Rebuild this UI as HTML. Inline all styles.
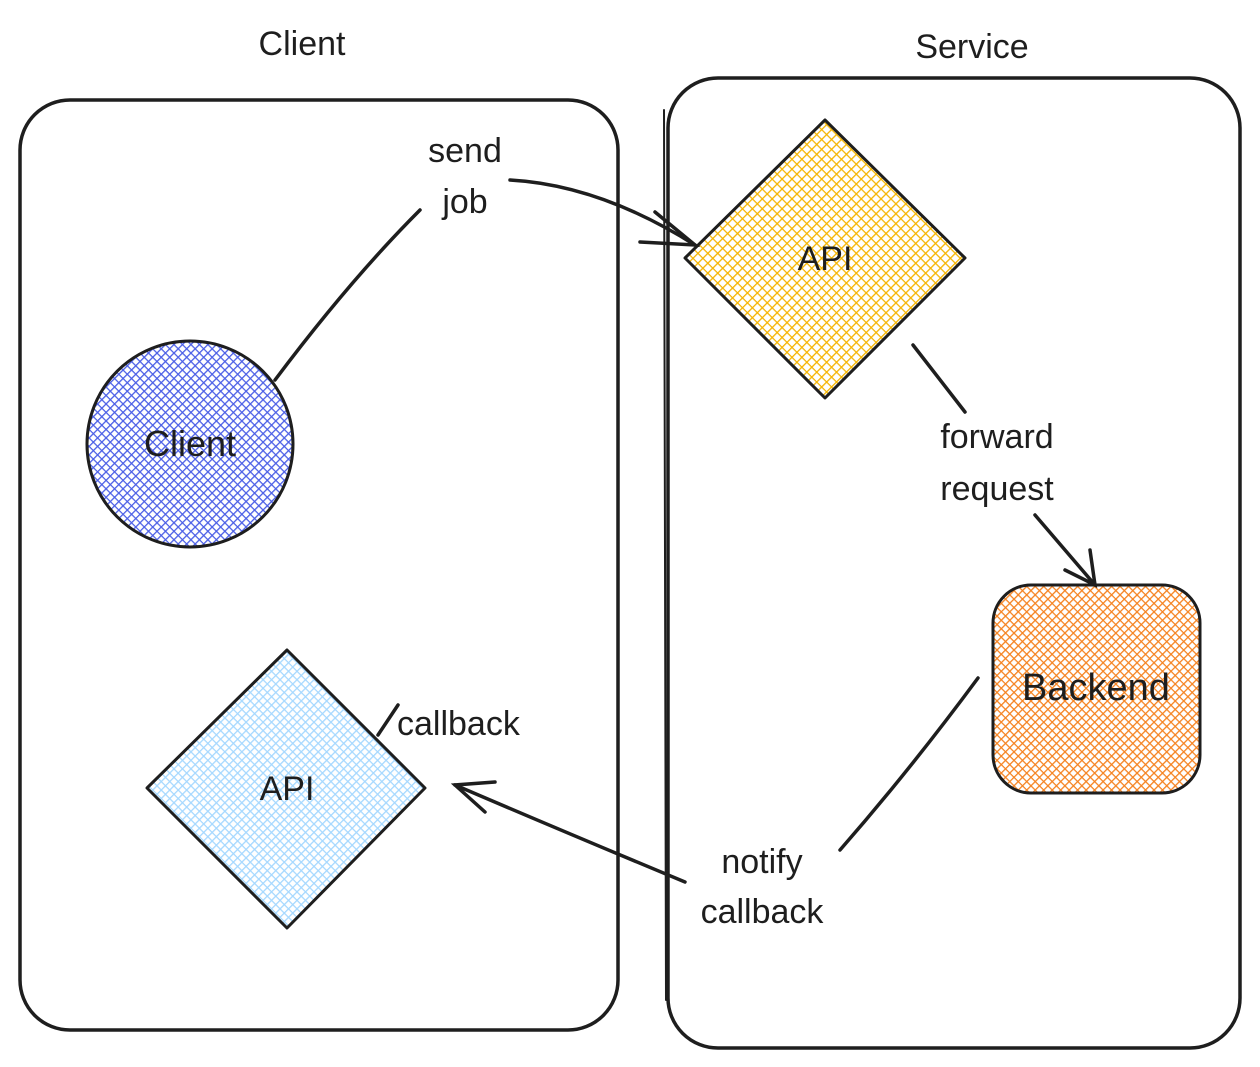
<!DOCTYPE html>
<html><head><meta charset="utf-8"><style>
html,body{margin:0;padding:0;background:#fff;}
svg{display:block;}
text{font-family:"Liberation Sans",sans-serif;fill:#1e1e1e;}
</style></head><body>
<svg width="1260" height="1067" viewBox="0 0 1260 1067" xmlns="http://www.w3.org/2000/svg">
<defs>
<pattern id="hy" width="7" height="7" patternUnits="userSpaceOnUse" patternTransform="rotate(45)"><rect width="7" height="7" fill="#fff"/><path d="M0 0V7M0 0H7" stroke="#f5b400" stroke-width="2.6"/></pattern>
<pattern id="hb" width="6" height="6" patternUnits="userSpaceOnUse" patternTransform="rotate(45)"><rect width="6" height="6" fill="#fff"/><path d="M0 0V6M0 0H6" stroke="#4a5ee6" stroke-width="2.6"/></pattern>
<pattern id="ho" width="6" height="6" patternUnits="userSpaceOnUse" patternTransform="rotate(45)"><rect width="6" height="6" fill="#fff"/><path d="M0 0V6M0 0H6" stroke="#f5821f" stroke-width="2.6"/></pattern>
<pattern id="hl" width="6" height="6" patternUnits="userSpaceOnUse" patternTransform="rotate(45)"><rect width="6" height="6" fill="#fff"/><path d="M0 0V6M0 0H6" stroke="#a5d8ff" stroke-width="2.6"/></pattern>
</defs>
<g fill="none" stroke="#1e1e1e" stroke-width="3.5" stroke-linecap="round">
<rect x="20" y="100" width="598" height="930" rx="50"/>
<rect x="668" y="78" width="572" height="970" rx="50"/>
<line x1="664" y1="110" x2="666" y2="1000" stroke-width="2"/>
</g>
<text x="302" y="55" font-size="34" text-anchor="middle">Client</text>
<text x="972" y="58" font-size="34" text-anchor="middle">Service</text>

<circle cx="190" cy="444" r="103" fill="url(#hb)" stroke="#1e1e1e" stroke-width="3"/>
<text x="190" y="456" font-size="36" text-anchor="middle">Client</text>

<path d="M825 120 L965 258 L825 398 L685 258 Z" fill="url(#hy)" stroke="#1e1e1e" stroke-width="3" stroke-linejoin="round"/>
<text x="825" y="270" font-size="34" text-anchor="middle">API</text>

<rect x="993" y="585" width="207" height="208" rx="38" fill="url(#ho)" stroke="#1e1e1e" stroke-width="3"/>
<text x="1096" y="700" font-size="38" text-anchor="middle">Backend</text>

<path d="M287 650 L425 788 L287 928 L147 788 Z" fill="url(#hl)" stroke="#1e1e1e" stroke-width="3" stroke-linejoin="round"/>
<text x="287" y="800" font-size="34" text-anchor="middle">API</text>

<g fill="none" stroke="#1e1e1e" stroke-width="3.5" stroke-linecap="round">
<path d="M275 380 Q350 280 420 210"/>
<path d="M510 180 Q600 185 695 245"/>
<path d="M655 212 L695 245 L640 242"/>
<path d="M913 345 L965 412"/>
<path d="M1035 515 L1095 585"/>
<path d="M1090 550 L1095 585 L1065 570"/>
<path d="M978 678 Q910 770 840 850"/>
<path d="M685 882 Q560 830 455 785"/>
<path d="M485 812 L455 785 L495 782"/>
<path d="M378 735 L398 705"/>
</g>
<text x="465" y="162" font-size="34" text-anchor="middle">send</text>
<text x="465" y="213" font-size="34" text-anchor="middle">job</text>
<text x="997" y="448" font-size="34" text-anchor="middle">forward</text>
<text x="997" y="500" font-size="34" text-anchor="middle">request</text>
<text x="762" y="873" font-size="34" text-anchor="middle">notify</text>
<text x="762" y="923" font-size="34" text-anchor="middle">callback</text>
<text x="397" y="735" font-size="34">callback</text>
</svg>
</body></html>
